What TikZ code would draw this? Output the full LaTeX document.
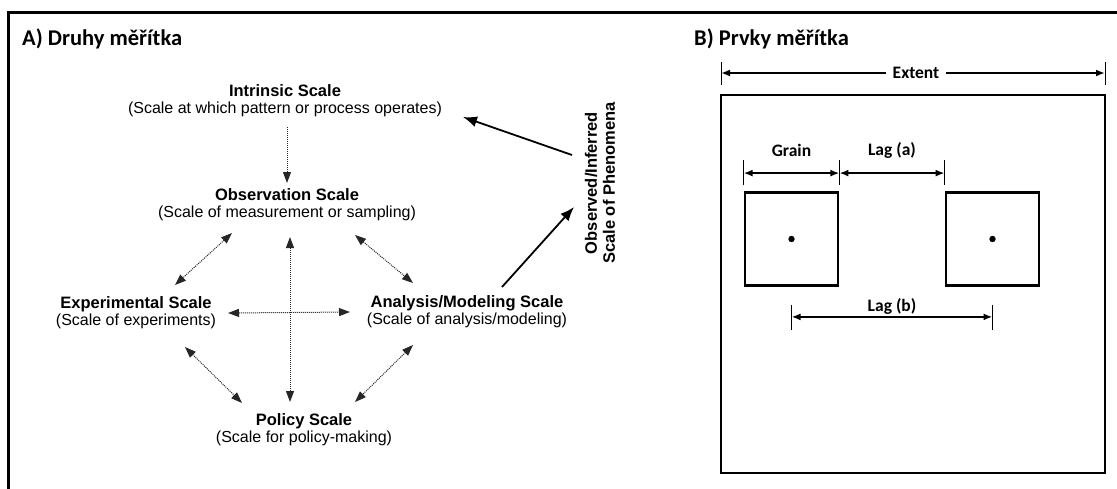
\documentclass[tikz,border=0pt]{standalone}
\usepackage{fontspec}
\setmainfont{Liberation Sans}
\newfontfamily\calfont{Carlito}
\usetikzlibrary{arrows.meta,calc}
\newcommand\sclhead[1]{{\bfseries\fontsize{16.5}{17}\selectfont #1}}
\tikzset{
	ttl/.style  = {anchor=base west,inner sep=0pt,
		font=\calfont\bfseries\fontsize{22.5}{26}\selectfont},
	scl/.style  = {align=center,inner sep=0pt,
		font=\fontsize{16}{17}\selectfont},
	phen/.style = {align=center,inner sep=0pt,rotate=90,
		font=\bfseries\fontsize{16.5}{18}\selectfont},
	dual/.style = {densely dotted,line width=1pt,black!85,
		{Triangle[length=11pt,width=8pt]}-{Triangle[length=11pt,width=8pt]}},
	down/.style = {densely dotted,line width=1pt,black!85,
		-{Triangle[length=11pt,width=8pt]}},
	big/.style  = {line width=1.8pt,-{Latex[length=14pt,width=11pt]}},
	cell/.style = {draw,line width=2.8pt,minimum size=93pt,inner sep=0pt},
	lbl/.style  = {inner sep=1pt,
		font=\calfont\bfseries\fontsize{17.5}{20}\selectfont},
	dim/.style  = {line width=2pt,
		{Latex[length=9pt,width=7pt]}-{Latex[length=9pt,width=7pt]}},
	half/.style = {line width=1.8pt,-{Latex[length=9pt,width=7pt]}},
	tick/.style = {line width=1pt},
}

\begin{document}
\begin{tikzpicture}[x=1pt,y=-1pt]
	\useasboundingbox (0,0) rectangle (1117,488);
	%% frame
	\draw[line width=3pt] (1125,12) -- (8,12) -- (8,496);
	\node (ta) [ttl] at (22,45) {A) Druhy měřítka};
	\node (tb) [ttl] at (694,45) {B) Prvky měřítka};
	
	%% A) kinds of scale
	\node (intr) [scl] at (285,101)
	{\sclhead{Intrinsic Scale}\\(Scale at which pattern or process operates)};
	\node (obs)  [scl] at (287,205)
	{\sclhead{Observation Scale}\\(Scale of measurement or sampling)};
	\node (expt) [scl] at (136,313)
	{\sclhead{Experimental Scale}\\(Scale of experiments)};
	\node (anal) [scl] at (467,312)
	{\sclhead{Analysis/Modeling Scale}\\(Scale of analysis/modeling)};
	\node (pol)  [scl] at (304,430)
	{\sclhead{Policy Scale}\\(Scale for policy-making)};
	\node (phen) [phen] at (600,183)
	{Observed/Inferred\\Scale of Phenomena};
	
	\draw[down] ([shift={(2,26)}]intr.center) -- ([shift={(0,-22)}]obs.center);
	\draw[dual] ([shift={(-55,28)}]obs.center) -- ([shift={(39,-28)}]expt.center);
	\draw[dual] ([shift={(68,30)}]obs.center)  -- ([shift={(-54,-29)}]anal.center);
	\draw[dual] ([shift={(49,34)}]expt.center) -- ([shift={(-62,-27)}]pol.center);
	\draw[dual] ([shift={(-54,33)}]anal.center) -- ([shift={(51,-28)}]pol.center);
	\draw[dual] ([shift={(3,32)}]obs.center)   -- ([shift={(-14,-28)}]pol.center);
	\draw[dual] ([shift={(92,0)}]expt.center)  -- ([shift={(-117,0)}]anal.center);
	
	\draw[big] ([shift={(-28,-28)}]phen.center) -- ([shift={(178,16)}]intr.center);
	\draw[big] ([shift={(35,-25)}]anal.center)  -- ([shift={(-26,24)}]phen.center);
	
	%% B) elements of scale
	\draw[line width=2.8pt] (721,95) rectangle (1105,473);
	\coordinate (eL) at (721,73);
	\coordinate (eR) at (1105,73);
	\node (ext) [lbl,fill=white,inner xsep=7pt] at (916,73) {Extent};
	\draw[half] (ext) -- (eL);
	\draw[half] (ext) -- (eR);
	\draw[tick] (721,62) -- (721,85);
	\draw[tick] (1105,62) -- (1105,85);
	
	\node (g1) [cell] at (791.5,239) {};
	\node (g2) [cell] at (992.5,239) {};
	\fill (g1.center) circle (3.2);
	\fill (g2.center) circle (3.2);
	
	\foreach \a in {g1.north west,g1.north east,g2.north west}
	\draw[tick] ([yshift=6pt]\a) -- ([yshift=31pt]\a);
	\draw[dim] ([yshift=18pt]g1.north west) -- ([yshift=18pt]g1.north east);
	\draw[dim] ([yshift=18pt]g1.north east) -- ([yshift=18pt]g2.north west);
	\node (grain) [lbl] at ([yshift=41pt]g1.north) {Grain};
	\node (laga)  [lbl] at ($([yshift=41pt]g1.north east)!0.5!([yshift=41pt]g2.north west)$) {Lag (a)};
	
	\foreach \a in {g1.south,g2.south}
	\draw[tick] ([yshift=-18pt]\a) -- ([yshift=-43pt]\a);
	\draw[dim] ([yshift=-30pt]g1.south) -- ([yshift=-30pt]g2.south);
	\node (lagb) [lbl,anchor=base] at ($([yshift=-25pt]g1.south)!0.5!([yshift=-25pt]g2.south)$) {Lag (b)};
\end{tikzpicture}
\end{document}
